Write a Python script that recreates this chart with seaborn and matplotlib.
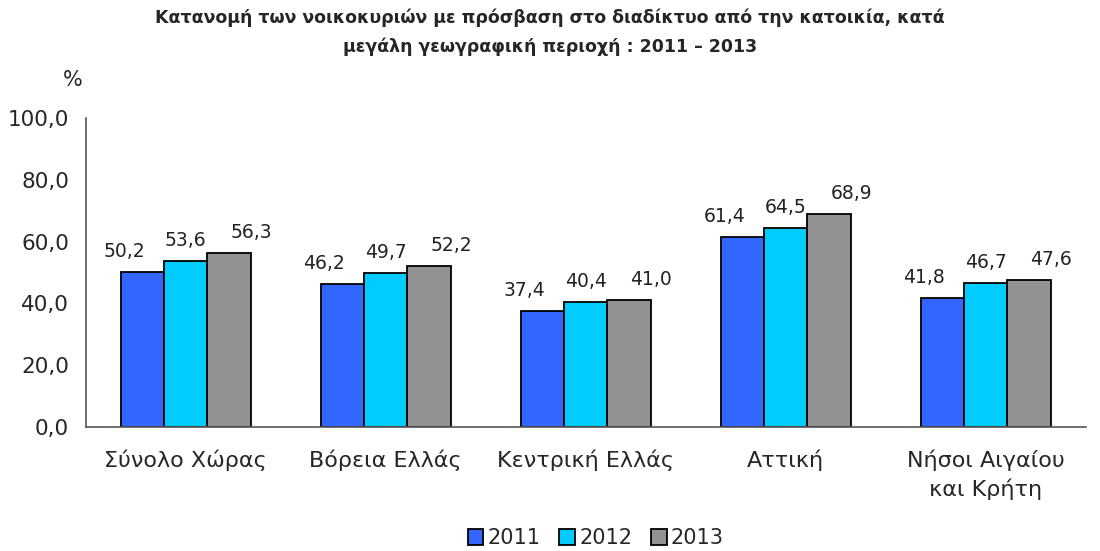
import matplotlib
matplotlib.use("Agg")
import matplotlib.pyplot as plt
import seaborn as sns
import pandas as pd
from matplotlib.ticker import FixedLocator, FuncFormatter

categories = ["Σύνολο Χώρας", "Βόρεια Ελλάς", "Κεντρική Ελλάς", "Αττική", "Νήσοι Αιγαίου\nκαι Κρήτη"]
years = ["2011", "2012", "2013"]
v2011 = [50.2, 46.2, 37.4, 61.4, 41.8]
v2012 = [53.6, 49.7, 40.4, 64.5, 46.7]
v2013 = [56.3, 52.2, 41.0, 68.9, 47.6]
colors = ["#3366FF", "#00CCFF", "#929292"]

rows = []
for y, vals in zip(years, [v2011, v2012, v2013]):
    for c, v in zip(categories, vals):
        rows.append({"cat": c, "year": y, "val": v})
df = pd.DataFrame(rows)

sns.set_theme(style="white")
plt.rcParams["font.family"] = ["DejaVu Sans"]

fig = plt.figure(figsize=(11, 5.51), dpi=100)
ax = fig.add_axes([0.078, 0.225, 0.909, 0.561])
sns.barplot(data=df, x="cat", y="val", hue="year", palette=colors, width=0.65,
            edgecolor="black", linewidth=1.3, ax=ax, saturation=1, legend=True)

label_shift = [-13, 0, 16]  # points, spread labels apart as in the original
for k, cont in enumerate(ax.containers):
    for b in cont:
        ax.annotate(f"{b.get_height():.1f}".replace(".", ","),
                    (b.get_x() + b.get_width() / 2, b.get_height()),
                    xytext=(label_shift[k], 8), textcoords="offset points",
                    ha="center", va="bottom", fontsize=13.5, color="#222222")

ax.set_ylim(0, 100)
ax.set_xlim(-0.5, len(categories) - 0.5)
ax.set_yticks([0, 20, 40, 60, 80, 100])
ax.yaxis.set_major_formatter(FuncFormatter(lambda v, p: f"{v:.1f}".replace(".", ",")))
ax.tick_params(axis="y", direction="out", length=6, width=1, color="#555555", labelsize=15.5, pad=6)
ax.tick_params(axis="x", which="major", length=0, labelsize=16, pad=16)
for t in ax.get_xticklabels():
    t.set_linespacing(1.45)
ax.xaxis.set_minor_locator(FixedLocator([i + 0.5 for i in range(len(categories) - 1)]))
ax.tick_params(axis="x", which="minor", direction="out", length=8, width=1, color="#555555")
ax.set_xlabel("")
ax.set_ylabel("")
for s in ["top", "right"]:
    ax.spines[s].set_visible(False)
for s in ["left", "bottom"]:
    ax.spines[s].set_color("#555555")
    ax.spines[s].set_linewidth(1.2)

ax.text(-0.003, 1.09, "%", transform=ax.transAxes, ha="right", va="bottom", fontsize=15)

fig.suptitle("Κατανομή των νοικοκυριών με πρόσβαση στο διαδίκτυο από την κατοικία, κατά\n"
             "μεγάλη γεωγραφική περιοχή : 2011 – 2013",
             y=0.985, fontsize=12.5, fontweight="bold", linespacing=1.75)

leg = ax.legend(loc="center", bbox_to_anchor=(0.51, -0.36), ncol=3, frameon=False,
                fontsize=15, handlelength=0.75, handleheight=0.75, handletextpad=0.2,
                columnspacing=0.9, title=None)

fig.savefig("out.png", dpi=100)
